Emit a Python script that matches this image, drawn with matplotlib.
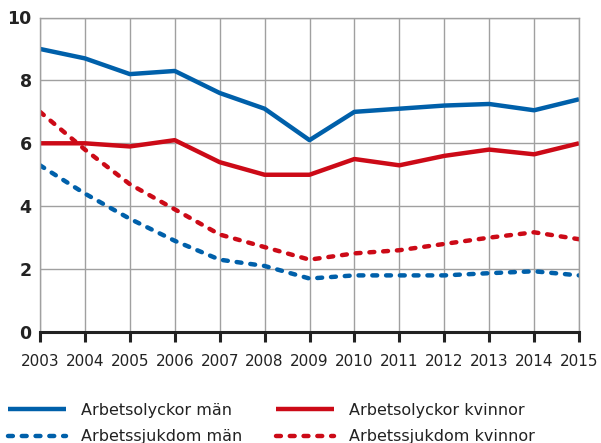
import numpy as np
import matplotlib.pyplot as plt

# Data
years = list(range(2003, 2016))
olyckor_man = [9.0, 8.7, 8.2, 8.3, 7.6, 7.1, 6.1, 7.0, 7.1, 7.2, 7.25, 7.05, 7.4]
olyckor_kvinnor = [6.0, 6.0, 5.9, 6.1, 5.4, 5.0, 5.0, 5.5, 5.3, 5.6, 5.8, 5.65, 6.0]
sjukdom_man = [5.3, 4.4, 3.6, 2.9, 2.3, 2.1, 1.7, 1.8, 1.8, 1.8, 1.87, 1.93, 1.8]
sjukdom_kvinnor = [7.0, 5.8, 4.7, 3.9, 3.1, 2.7, 2.3, 2.5, 2.6, 2.8, 3.0, 3.17, 2.95]
yticks = [0, 2, 4, 6, 8, 10]

blue = '#0060AA'
red = '#CC0A17'
txt = '#222222'

fig = plt.figure(figsize=(6.01, 4.43), dpi=100)
ax = fig.add_axes([40 / 601, 1 - 332 / 443, (579 - 40) / 601, (332 - 17.5) / 443])

lw = 3.2
dot = (0, (1.1, 2.0))
l1, = ax.plot(years, olyckor_man, color=blue, lw=lw, solid_capstyle='butt')
l2, = ax.plot(years, olyckor_kvinnor, color=red, lw=lw, solid_capstyle='butt')
l3, = ax.plot(years, sjukdom_man, color=blue, lw=lw, ls=dot, dash_capstyle='round')
l4, = ax.plot(years, sjukdom_kvinnor, color=red, lw=lw, ls=dot, dash_capstyle='round')

ax.set_xlim(2003, 2015)
ax.set_ylim(0, 10)
ax.set_xticks(years)
ax.set_yticks(yticks)
ax.set_yticklabels([str(v) for v in yticks], fontweight='bold', fontsize=12.5, color=txt)
ax.set_xticklabels([str(y) for y in years], fontsize=11, color=txt)
ax.grid(True, color='#a0a0a0', lw=1.0)
ax.set_axisbelow(True)
for side in ['top', 'right', 'left']:
    ax.spines[side].set_color('#a0a0a0')
    ax.spines[side].set_linewidth(1.0)
ax.spines['bottom'].set_color(txt)
ax.spines['bottom'].set_linewidth(2.2)
ax.tick_params(axis='x', direction='out', length=7, width=2.2, color=txt, pad=9)
ax.tick_params(axis='y', length=0, pad=6)

# two legend columns placed separately
leg_kw = dict(loc='center left', frameon=False, fontsize=11.5, handlelength=3.6,
              handletextpad=1.0, labelspacing=0.75, borderaxespad=0, borderpad=0,
              labelcolor=txt)
leg1 = fig.legend([l1, l3], ['Arbetsolyckor män', 'Arbetssjukdom män'],
                  bbox_to_anchor=(8 / 601, 1 - 423.5 / 443), **leg_kw)
leg2 = fig.legend([l2, l4], ['Arbetsolyckor kvinnor', 'Arbetssjukdom kvinnor'],
                  bbox_to_anchor=(276 / 601, 1 - 423.5 / 443), **leg_kw)

fig.savefig('out.png', dpi=100)
